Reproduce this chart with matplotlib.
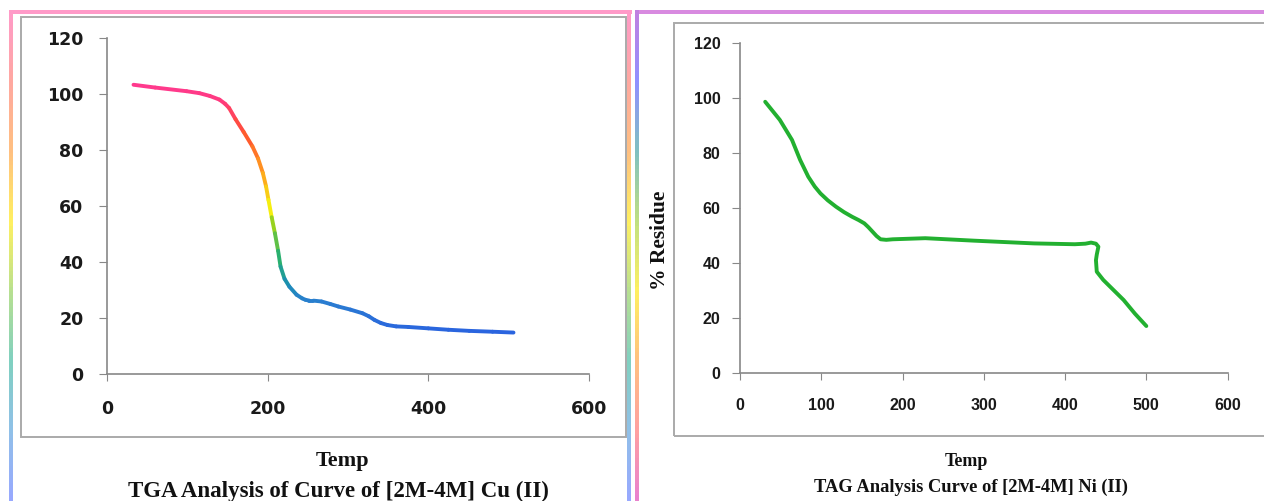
import matplotlib
matplotlib.use('Agg')
import matplotlib.pyplot as plt
import numpy as np
from matplotlib.collections import LineCollection
from matplotlib.colors import LinearSegmentedColormap
from matplotlib.patches import Rectangle

# TGA data
cu_temp = [33, 60, 99, 115, 128, 140, 147, 152, 160, 170, 181, 188, 194, 198, 201, 205,
           209, 213, 216, 221, 227, 236, 243, 247, 252, 257, 267, 278, 288, 303, 318, 326,
           333, 341, 349, 360, 375, 400, 425, 451, 480, 506]
cu_resid = [103.3, 102.3, 101.0, 100.3, 99.3, 98.0, 96.5, 95.0, 91.0, 86.5, 81.3, 77.0,
            71.8, 67.0, 62.2, 56.0, 50.3, 44.0, 38.4, 34.0, 31.2, 28.3, 27.0, 26.5, 26.2,
            26.2, 25.9, 25.0, 24.1, 23.0, 21.7, 20.6, 19.3, 18.2, 17.5, 17.0, 16.8, 16.3,
            15.8, 15.4, 15.1, 14.8]

ni_temp = [31, 49, 64, 74, 84, 92, 99, 108, 118, 128, 138, 146, 153, 158, 163, 168, 173,
           180, 188, 228, 288, 362, 412, 425, 432, 438, 441, 439, 438, 439, 447, 460, 472,
           486, 500]
ni_resid = [98.7, 92.1, 84.8, 77.5, 71.4, 67.8, 65.3, 62.8, 60.5, 58.5, 56.8, 55.6, 54.4,
            53.0, 51.4, 49.8, 48.6, 48.4, 48.6, 49.0, 48.1, 47.1, 46.8, 47.0, 47.4, 47.0,
            45.9, 43.0, 41.0, 36.8, 33.8, 30.0, 26.5, 21.5, 17.0]

x_ticks_cu = [0, 200, 400, 600]
x_ticks_ni = [0, 100, 200, 300, 400, 500, 600]
y_ticks = [0, 20, 40, 60, 80, 100, 120]

W, H = 1264, 501
fig = plt.figure(figsize=(W / 100, H / 100), dpi=100)


def fx(x):
    return x / W


def fy(y):
    return 1 - y / H


def grad_line(x0, y0, x1, y1, colors, lw=1.5, n=120):
    # straight border line in pixel coords with a colour gradient along it
    cmap = LinearSegmentedColormap.from_list('g', colors)
    t = np.linspace(0, 1, n + 1)
    xs = fx(x0 + (x1 - x0) * t)
    ys = fy(y0 + (y1 - y0) * t)
    pts = np.column_stack([xs, ys]).reshape(-1, 1, 2)
    segs = np.concatenate([pts[:-1], pts[1:]], axis=1)
    lc = LineCollection(segs, colors=cmap(t[:-1]), linewidths=lw,
                        transform=fig.transFigure, capstyle='projecting',
                        antialiased=False)
    fig.add_artist(lc)


rainbow_down = ['#ff9ac8', '#ffa8a0', '#ffc080', '#fff060', '#b8e090', '#80d0c0',
                '#90c0e8', '#98a8ff']
rainbow_up = ['#c080e0', '#9090ff', '#80c0c0', '#c0e080', '#fff060', '#ffc080',
              '#ffa0a0', '#e880d0']

# outer panel frames
grad_line(11, 12, 630, 12, ['#ff9ac8', '#ff9ac8'])
grad_line(11, 12, 11, 501, rainbow_down)
grad_line(629, 12, 629, 501, rainbow_down)
grad_line(637, 12, 1264, 12, ['#d88ae0', '#d88ae0'])
grad_line(637, 12, 637, 501, rainbow_up)

# inner chart-area boxes
fig.add_artist(Rectangle((fx(21), fy(437)), fx(626 - 21), (437 - 17) / H,
                         transform=fig.transFigure, fill=False, ec='#aaaaaa', lw=1.4))
fig.add_artist(Rectangle((fx(674), fy(436)), fx(1275 - 674), (436 - 23) / H,
                         transform=fig.transFigure, fill=False, ec='#aaaaaa', lw=1.4,
                         clip_on=False))

serif = 'Liberation Serif'


def style_axes(ax, xticks, pad_x, pad_y, family, size):
    ax.set_xlim(0, 600)
    ax.set_ylim(0, 120)
    ax.set_xticks(xticks)
    ax.set_yticks(y_ticks)
    for s in ['top', 'right']:
        ax.spines[s].set_visible(False)
    for s in ['left', 'bottom']:
        ax.spines[s].set_color('#888888')
        ax.spines[s].set_linewidth(1.2)
    ax.tick_params(axis='x', length=5, color='#888888', pad=pad_x)
    ax.tick_params(axis='y', length=6, color='#888888', pad=pad_y)
    for lab in ax.get_xticklabels() + ax.get_yticklabels():
        lab.set_family(family)
        lab.set_weight('bold')
        lab.set_fontsize(size)
        lab.set_color('#1a1a1a')
    ax.patch.set_alpha(0)


# left panel: Cu complex, colour graded by residue
ax1 = fig.add_axes([fx(107), fy(374), fx(589 - 107), (374 - 38) / H])
style_axes(ax1, x_ticks_cu, 14, 11, 'DejaVu Sans', 12.5)
cu_cmap = LinearSegmentedColormap.from_list('cu', [
    (0.0, '#2a62e0'), (0.13, '#2a7ed0'), (0.2, '#1a90b0'), (0.3, '#28b070'),
    (0.43, '#90d020'), (0.5, '#f5ef10'), (0.65, '#ff9a20'), (0.8, '#ff5030'),
    (0.93, '#ff3a80'), (1.0, '#ff3a90')])
pts = np.column_stack([cu_temp, cu_resid]).reshape(-1, 1, 2)
segs = np.concatenate([pts[:-1], pts[1:]], axis=1)
mid = (np.array(cu_resid[:-1]) + np.array(cu_resid[1:])) / 2
lc = LineCollection(segs, cmap=cu_cmap, norm=plt.Normalize(14, 104),
                    linewidths=2.8, capstyle='round', joinstyle='round')
lc.set_array(mid)
ax1.add_collection(lc)

fig.text(fx(343), fy(461), 'Temp', ha='center', va='center',
         family=serif, weight='bold', size=16, color='#111111')
fig.text(fx(338), fy(491), 'TGA Analysis of Curve of [2M-4M] Cu (II)', ha='center',
         va='center', family=serif, weight='bold', size=16.5, color='#111111')

# right panel: Ni complex
ax2 = fig.add_axes([fx(740), fy(372.7), fx(1227.6 - 740), (372.7 - 43.3) / H])
style_axes(ax2, x_ticks_ni, 13, 8, 'Liberation Sans', 11.5)
ax2.plot(ni_temp, ni_resid, color='#22b030', lw=2.8, solid_capstyle='round',
         solid_joinstyle='round')

fig.text(fx(660), fy(240), '% Residue', ha='center', va='center', rotation=90,
         family=serif, weight='bold', size=15.5, color='#111111')
fig.text(fx(966), fy(461), 'Temp', ha='center', va='center',
         family=serif, weight='bold', size=13, color='#111111')
fig.text(fx(971), fy(487), 'TAG Analysis Curve of [2M-4M] Ni (II)', ha='center',
         va='center', family=serif, weight='bold', size=13.3, color='#111111')

fig.savefig('out.png', dpi=100)
